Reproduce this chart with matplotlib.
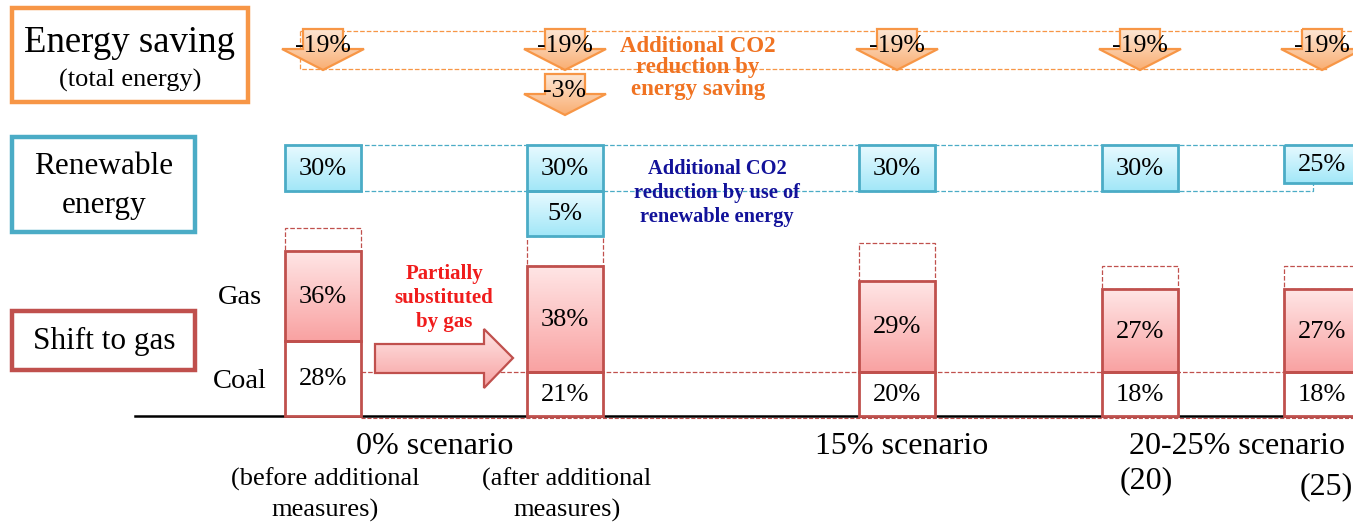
"""plot.py
schematic of CO2 reduction measures per scenario:
energy saving arrows, renewable share boxes, coal/gas bars
"""

import numpy as np
import matplotlib
matplotlib.use('Agg')
import matplotlib.pyplot as plt
from matplotlib.patches import Rectangle, Polygon

# ---- data ----
scenario_names = ['0% scenario', '15% scenario', '20-25% scenario']
column_notes = ['(before additional\nmeasures)', '(after additional\nmeasures)', '', '(20)', '(25)']
saving_labels = ['-19%', '-19%', '-19%', '-19%', '-19%']
extra_saving_labels = ['', '-3%', '', '', '']
renew_share = [30, 30, 30, 30, 25]
extra_renew_share = [0, 5, 0, 0, 0]
gas_share = [36, 38, 29, 27, 27]
coal_share = [28, 21, 20, 18, 18]
# drawn heights of the bar segments (the sketch is not to scale)
coal_drawn = [28.0, 16.4, 16.4, 16.4, 16.4]
gas_drawn = [33.6, 39.6, 34.0, 31.0, 31.0]
prev_total_drawn = [70.1, 67.2, 64.6, 56.0, 56.0]

# ---- layout (pixels, y down) ----
W, H = 1353, 523
col_x = [323, 565, 897, 1140, 1322]
BAR_W = 76
BASE = 416
UNIT = 2.68           # px per drawn unit
RENEW_TOP = 145
RENEW_H30 = 46        # box height for a 30% share
EXTRA_RENEW_H = 45

ORANGE = '#f79646'
ORANGE_TXT = '#f07322'
BLUE = '#4bacc6'
NAVY = '#12129a'
RED = '#c0504d'
RED_TXT = '#f01c1c'
SERIF = 'Liberation Serif'

plt.rcParams['font.family'] = [SERIF, 'DejaVu Serif']


def gradient(ax, patch, c_top, c_bottom):
    """fill a patch with a vertical gradient, light on top"""
    if isinstance(patch, Rectangle):
        x0, y0 = patch.get_x(), patch.get_y()
        x1, y1 = x0 + patch.get_width(), y0 + patch.get_height()
    else:
        verts = ax.transData.inverted().transform(patch.get_verts())
        x0, x1 = verts[:, 0].min(), verts[:, 0].max()
        y0, y1 = verts[:, 1].min(), verts[:, 1].max()
    ytop, ybot = min(y0, y1), max(y0, y1)
    top = np.array(matplotlib.colors.to_rgb(c_top))
    bot = np.array(matplotlib.colors.to_rgb(c_bottom))
    t = np.linspace(0, 1, 64)[:, None]
    img = (top * (1 - t) + bot * t)[:, None, :]
    im = ax.imshow(img, extent=(min(x0, x1), max(x0, x1), ybot, ytop),
                   origin='upper', aspect='auto', zorder=patch.get_zorder() - 0.1,
                   interpolation='bilinear')
    im.set_clip_path(patch)


def down_arrow(ax, cx, y_top, label):
    """block arrow pointing down with a label on it"""
    pts = [(cx - 20, y_top), (cx + 20, y_top), (cx + 20, y_top + 20),
           (cx + 41, y_top + 20), (cx, y_top + 41), (cx - 41, y_top + 20),
           (cx - 20, y_top + 20)]
    poly = Polygon(pts, closed=True, facecolor='none', edgecolor=ORANGE,
                   linewidth=1.6, zorder=5)
    ax.add_patch(poly)
    gradient(ax, poly, '#fde6d4', '#f9ae72')
    ax.text(cx, y_top + 17, label, ha='center', va='center', fontsize=18.5, zorder=6)


fig = plt.figure(figsize=(W / 100, H / 100), dpi=100)
ax = fig.add_axes([0, 0, 1, 1])
ax.set_xlim(0, W)
ax.set_ylim(H, 0)
ax.axis('off')

# ---- left hand category boxes ----
for (x0, y0, x1, y1), edge in [((12, 8, 248, 102), ORANGE),
                               ((12, 137, 195, 232), BLUE),
                               ((12, 311, 195, 370), RED)]:
    ax.add_patch(Rectangle((x0, y0), x1 - x0, y1 - y0, fill=False,
                           edgecolor=edge, linewidth=3.2, zorder=4))
ax.text(130, 43, 'Energy saving', ha='center', va='center', fontsize=26.5)
ax.text(130, 80, '(total energy)', ha='center', va='center', fontsize=19)
ax.text(104, 166, 'Renewable', ha='center', va='center', fontsize=22.5)
ax.text(104, 205, 'energy', ha='center', va='center', fontsize=22.5)
ax.text(104, 341, 'Shift to gas', ha='center', va='center', fontsize=22.5)
ax.text(240, 297, 'Gas', ha='center', va='center', fontsize=20.5)
ax.text(240, 381, 'Coal', ha='center', va='center', fontsize=20.5)

# ---- energy saving row ----
ax.plot([300, W], [31, 31], color=ORANGE, ls='--', lw=0.9, zorder=2)
ax.plot([300, 300, 1328], [31, 69, 69], color=ORANGE, ls='--', lw=0.9, zorder=2)
for cx, lab, extra in zip(col_x, saving_labels, extra_saving_labels):
    down_arrow(ax, cx, 29, lab)
    if extra:
        down_arrow(ax, cx, 74, extra)
ax.text(698, 68, 'Additional CO2\nreduction by\nenergy saving', ha='center',
        va='center', fontsize=16.5, fontweight='bold', color=ORANGE_TXT,
        linespacing=1.04, zorder=6)

# ---- renewable row ----
ax.plot([285, W], [RENEW_TOP, RENEW_TOP], color=BLUE, ls='--', lw=0.9, zorder=2)
ax.plot([285, 1313, 1313], [191, 191, 183], color=BLUE, ls='--', lw=0.9, zorder=2)
renew_h = np.array(renew_share) * RENEW_H30 / 30
boxes = ax.bar(col_x, renew_h, width=BAR_W, bottom=RENEW_TOP, color='none',
               edgecolor=BLUE, linewidth=2, zorder=5)
for p, cx, share, h in zip(boxes, col_x, renew_share, renew_h):
    gradient(ax, p, '#e8faff', '#a2e7f8')
    ax.text(cx, RENEW_TOP + h / 2 + 1, f'{share}%', ha='center', va='center',
            fontsize=19, zorder=6)
for p_x, extra, h in zip(col_x, extra_renew_share, renew_h):
    if extra:
        p = ax.bar(p_x, EXTRA_RENEW_H, width=BAR_W, bottom=RENEW_TOP + h,
                   color='none', edgecolor=BLUE, linewidth=2, zorder=5)[0]
        gradient(ax, p, '#e8faff', '#a2e7f8')
        ax.text(p_x, RENEW_TOP + h + EXTRA_RENEW_H / 2 + 1, f'{extra}%',
                ha='center', va='center', fontsize=19, zorder=6)
ax.text(717, 193, 'Additional CO2\nreduction by use of\nrenewable energy',
        ha='center', va='center', fontsize=14.7, fontweight='bold', color=NAVY,
        linespacing=1.25, zorder=6)

# ---- coal / gas bars ----
coal_px = np.array(coal_drawn) * UNIT
gas_px = np.array(gas_drawn) * UNIT
prev_px = np.array(prev_total_drawn) * UNIT
gas_top = BASE - coal_px - gas_px

ax.plot([135, W], [BASE, BASE], color='black', lw=1.8, zorder=2)
ax.plot([361, W], [BASE + 1.5, BASE + 1.5], color=RED, ls='--', lw=0.8, zorder=2)
ax.plot([361, W], [372, 372], color=RED, ls='--', lw=0.9, zorder=2)

ax.bar(col_x, -(prev_px - coal_px - gas_px), width=BAR_W, bottom=gas_top,
       fill=False, edgecolor=RED, ls='--', linewidth=0.9, zorder=3)
ax.bar(col_x, -coal_px, width=BAR_W, bottom=BASE, color='white',
       edgecolor=RED, linewidth=2, zorder=4)
gas_bars = ax.bar(col_x, -gas_px, width=BAR_W, bottom=BASE - coal_px,
                  color='none', edgecolor=RED, linewidth=2, zorder=4)
for p in gas_bars:
    gradient(ax, p, '#ffe6e6', '#f9a2a2')
for cx, c, g, cp, gp in zip(col_x, coal_share, gas_share, coal_px, gas_px):
    ax.text(cx, BASE - cp / 2 + 1, f'{c}%', ha='center', va='center',
            fontsize=19, zorder=6)
    ax.text(cx, BASE - cp - gp / 2 + 1, f'{g}%', ha='center', va='center',
            fontsize=19, zorder=6)

# shift arrow between the two 0% bars
shift = Polygon([(375, 344), (484, 344), (484, 329), (513, 358), (484, 388),
                 (484, 373), (375, 373)], closed=True, facecolor='none',
                edgecolor=RED, linewidth=1.6, zorder=5)
ax.add_patch(shift)
gradient(ax, shift, '#ffe4e4', '#f7a2a2')
ax.text(444, 298, 'Partially\nsubstituted\nby gas', ha='center', va='center',
        fontsize=15, fontweight='bold', color=RED_TXT, linespacing=1.3, zorder=6)

# ---- scenario captions ----
ax.text(435, 447, scenario_names[0], ha='center', va='center', fontsize=23)
ax.text(902, 447, scenario_names[1], ha='center', va='center', fontsize=23)
ax.text(1237, 447, scenario_names[2], ha='center', va='center', fontsize=23)
for cx, note in zip(col_x[:2], column_notes[:2]):
    ax.text(cx + 2, 495, note, ha='center', va='center', fontsize=19,
            linespacing=1.45)
ax.text(1146, 481, column_notes[3], ha='center', va='center', fontsize=23)
ax.text(1326, 487, column_notes[4], ha='center', va='center', fontsize=23)

ax.set_xlim(0, W)
ax.set_ylim(H, 0)
fig.savefig('out.png', dpi=100)
